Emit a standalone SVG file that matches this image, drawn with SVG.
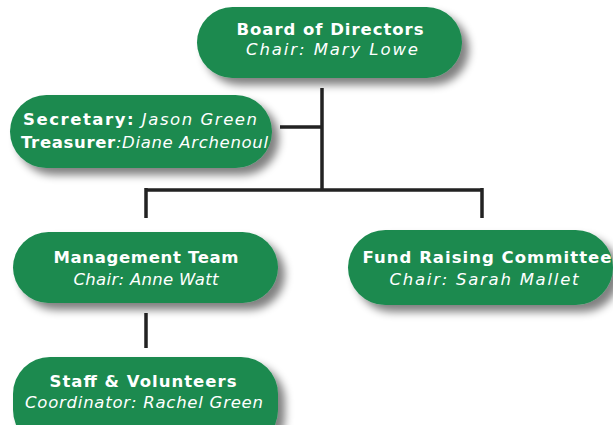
<svg xmlns="http://www.w3.org/2000/svg" width="613" height="425" viewBox="0 0 613 425">
<defs>
<filter id="sh" x="-20%" y="-30%" width="150%" height="180%">
<feGaussianBlur in="SourceAlpha" stdDeviation="4"/>
<feOffset dx="7" dy="7" result="b"/>
<feComponentTransfer><feFuncA type="linear" slope="0.5"/></feComponentTransfer>
<feMerge><feMergeNode/><feMergeNode in="SourceGraphic"/></feMerge>
</filter>
<style>
.n{fill:#1b8a4f;filter:url(#sh)}
.t{fill:#fff;font-family:"DejaVu Sans","Liberation Sans",sans-serif;font-size:16.5px}
.m{text-anchor:middle}
.b{font-weight:bold}
.i{font-style:italic}
.c{stroke:#222;stroke-width:3.5;fill:none}
</style>
</defs>
<rect width="613" height="425" fill="#fff"/>
<g id="connectors">
<path class="c" d="M322 88V190M280 127H322M146 190H482M146 188V218M482 188V218M146 313V348"/>
</g>
<g id="board">
<rect class="n" x="197" y="7" width="265" height="71" rx="35.5"/>
<text class="t b m" x="330" y="35" textLength="187" lengthAdjust="spacing">Board of Directors</text>
<text class="t i m" x="332" y="55" textLength="172" lengthAdjust="spacing">Chair: Mary Lowe</text>
</g>
<g id="secretary">
<rect class="n" x="10" y="95" width="262" height="73" rx="36.5"/>
<text class="t" x="23" y="125" textLength="234" lengthAdjust="spacing"><tspan class="b">Secretary:</tspan><tspan class="i"> Jason Green</tspan></text>
<text class="t" x="21" y="148" textLength="247" lengthAdjust="spacing"><tspan class="b">Treasurer</tspan><tspan class="i">:Diane Archenoul</tspan></text>
</g>
<g id="management">
<rect class="n" x="13" y="232" width="265" height="71" rx="35.5"/>
<text class="t b m" x="146" y="263" textLength="185" lengthAdjust="spacing">Management Team</text>
<text class="t i m" x="146" y="285" textLength="145" lengthAdjust="spacing">Chair: Anne Watt</text>
</g>
<g id="fundraising">
<rect class="n" x="348" y="230" width="265" height="75" rx="37.5"/>
<text class="t b m" x="487" y="263" textLength="249" lengthAdjust="spacing">Fund Raising Committee</text>
<text class="t i m" x="484" y="285" textLength="189" lengthAdjust="spacing">Chair: Sarah Mallet</text>
</g>
<g id="staff">
<rect class="n" x="13" y="357" width="265" height="90" rx="37"/>
<text class="t b m" x="143" y="387" textLength="187" lengthAdjust="spacing">Staff &amp; Volunteers</text>
<text class="t i m" x="144" y="408" textLength="238" lengthAdjust="spacing">Coordinator: Rachel Green</text>
</g>
</svg>
